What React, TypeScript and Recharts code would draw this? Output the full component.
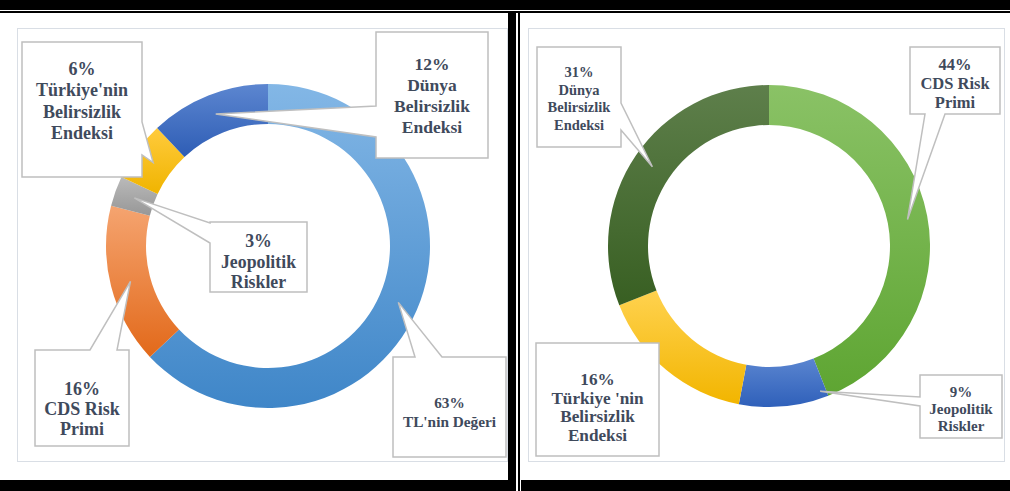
import { PieChart, Pie, Cell } from 'recharts'

// left: factors behind the TL risk premium, right: second breakdown
const LEFT_NAMES = ["TL'nin Değeri", 'CDS Risk\nPrimi', 'Jeopolitik\nRiskler', "Türkiye'nin\nBelirsizlik\nEndeksi", 'Dünya\nBelirsizlik\nEndeksi']
const LEFT_VALUES = [63, 16, 3, 6, 12]
const LEFT_FILLS = ['gTL', 'gOrange', 'gGray', 'gYellow', 'gBlue']

const RIGHT_NAMES = ['CDS Risk\nPrimi', 'Jeopolitik\nRiskler', "Türkiye 'nin\nBelirsizlik\nEndeksi", 'Dünya\nBelirsizlik\nEndeksi']
const RIGHT_VALUES = [44, 9, 16, 31]
const RIGHT_FILLS = ['gGreen', 'gBlue2', 'gYellow2', 'gDarkGreen']

const GRADIENTS: [string, string, string][] = [
  ['gTL', '#83B7E6', '#3F86C8'],
  ['gOrange', '#F5A470', '#E2691A'],
  ['gGray', '#BABABA', '#979797'],
  ['gYellow', '#FFCB3D', '#F0B400'],
  ['gBlue', '#5C86D0', '#2E5DB5'],
  ['gGreen', '#8AC266', '#5EA532'],
  ['gBlue2', '#5A85D0', '#2F60BA'],
  ['gYellow2', '#FFD24F', '#F2B500'],
  ['gDarkGreen', '#5E7F4B', '#385F22'],
]

type Side = 'top' | 'right' | 'bottom' | 'left' | 'none'
interface Callout {
  x0: number; y0: number; x1: number; y1: number
  side: Side; a: number; b: number
  fs: number; by: number; lh: number
  tipDeg?: number; tipDr?: number
}

// callout boxes, page coordinates
const LEFT_CALLOUTS: Callout[] = [
  { x0: 393, y0: 357, x1: 506, y1: 457, side: 'top', a: 415, b: 442, fs: 15.3, by: 408, lh: 18.5 },
  { x0: 35, y0: 350, x1: 129, y1: 446, side: 'top', a: 90, b: 117, fs: 18, by: 395, lh: 20 },
  { x0: 210, y0: 222, x1: 307, y1: 292, side: 'left', a: 223, b: 243, fs: 17.8, by: 247, lh: 20.5 },
  { x0: 22, y0: 42, x1: 142, y1: 177, side: 'right', a: 122, b: 155, fs: 18, by: 75, lh: 21.3 },
  { x0: 376, y0: 32, x1: 488, y1: 158, side: 'left', a: 106, b: 137, fs: 17.5, by: 70, lh: 21 },
]
const RIGHT_CALLOUTS: Callout[] = [
  { x0: 910, y0: 47, x1: 1000, y1: 114, side: 'bottom', a: 925, b: 945, fs: 16.5, by: 70, lh: 19 },
  { x0: 920, y0: 375, x1: 1002, y1: 438, side: 'left', a: 397, b: 406, fs: 15, by: 397, lh: 16.8, tipDeg: 14, tipDr: 13 },
  { x0: 536, y0: 343, x1: 659, y1: 456, side: 'none', a: 0, b: 0, fs: 17.2, by: 385, lh: 18.5 },
  { x0: 537, y0: 47, x1: 621, y1: 147, side: 'right', a: 103, b: 130, fs: 14.5, by: 77, lh: 17.7 },
]

const RAD = Math.PI / 180
const TEXT_COLOR = '#3F4A5C'
const FONT = '"Liberation Serif", "Times New Roman", serif'

function calloutPath(c: Callout, tx: number, ty: number) {
  const { x0, y0, x1, y1, side, a, b } = c
  const p: string[] = [`M${x0},${y0}`]
  if (side === 'top') p.push(`L${a},${y0}`, `L${tx},${ty}`, `L${b},${y0}`)
  p.push(`L${x1},${y0}`)
  if (side === 'right') p.push(`L${x1},${a}`, `L${tx},${ty}`, `L${x1},${b}`)
  p.push(`L${x1},${y1}`)
  if (side === 'bottom') p.push(`L${b},${y1}`, `L${tx},${ty}`, `L${a},${y1}`)
  p.push(`L${x0},${y1}`)
  if (side === 'left') p.push(`L${x0},${b}`, `L${tx},${ty}`, `L${x0},${a}`)
  p.push('Z')
  return p.join(' ')
}

function shift(c: Callout, ox: number, oy: number): Callout {
  const horiz = c.side === 'top' || c.side === 'bottom'
  return {
    ...c,
    x0: c.x0 - ox, x1: c.x1 - ox, y0: c.y0 - oy, y1: c.y1 - oy,
    a: c.a - (horiz ? ox : oy), b: c.b - (horiz ? ox : oy),
    by: c.by - oy,
  }
}

function makeLabel(names: string[], callouts: Callout[], ox: number, oy: number) {
  // eslint-disable-next-line @typescript-eslint/no-explicit-any
  return (props: any) => {
    const { cx, cy, midAngle, innerRadius, outerRadius, index, percent } = props
    const c = shift(callouts[index], ox, oy)
    const r = (innerRadius + outerRadius) / 2 + (c.tipDr ?? 0)
    const ang = midAngle + (c.tipDeg ?? 0)
    const tx = cx + Math.cos(-ang * RAD) * r
    const ty = cy + Math.sin(-ang * RAD) * r
    const lines = [`${Math.round(percent * 100)}%`, ...names[index].split('\n')]
    const mx = (c.x0 + c.x1) / 2
    return (
      <g key={`co-${index}`}>
        <path d={calloutPath(c, tx, ty)} fill="#fff" stroke="#BFBFBF" strokeWidth={1.5} strokeLinejoin="miter" />
        <text textAnchor="middle" fill={TEXT_COLOR} fontFamily={FONT} fontWeight="bold" fontSize={c.fs}>
          {lines.map((ln, i) => (
            <tspan key={i} x={mx} y={c.by + i * c.lh}>{ln}</tspan>
          ))}
        </text>
      </g>
    )
  }
}

const panel = (left: number, width: number): React.CSSProperties => ({
  position: 'absolute', left, top: 28, width, height: 434,
  border: '1.5px solid #D9DEE5', boxSizing: 'border-box', background: '#fff',
})

export default function App() {
  const leftData = LEFT_NAMES.map((name, i) => ({ name, value: LEFT_VALUES[i] }))
  const rightData = RIGHT_NAMES.map((name, i) => ({ name, value: RIGHT_VALUES[i] }))

  return (
    <div style={{ position: 'absolute', left: 0, top: 0, width: 1010, height: 491, background: '#fff', overflow: 'hidden' }}>
      <svg width={0} height={0} style={{ position: 'absolute' }}>
        <defs>
          {GRADIENTS.map(([id, c1, c2]) => (
            <linearGradient key={id} id={id} x1="0" y1="0" x2="0" y2="1">
              <stop offset="0%" stopColor={c1} />
              <stop offset="100%" stopColor={c2} />
            </linearGradient>
          ))}
        </defs>
      </svg>

      <div style={panel(17, 491)} />
      <div style={panel(528, 477)} />

      <div style={{ position: 'absolute', left: 17, top: 28 }}>
        <PieChart width={491} height={434} margin={{ top: 0, right: 0, bottom: 0, left: 0 }}>
          <Pie
            data={leftData}
            dataKey="value"
            cx={251}
            cy={218}
            innerRadius={122}
            outerRadius={162}
            startAngle={90}
            endAngle={-270}
            stroke="none"
            isAnimationActive={false}
            labelLine={false}
            label={makeLabel(LEFT_NAMES, LEFT_CALLOUTS, 17, 28)}
          >
            {leftData.map((d, i) => (
              <Cell key={d.name} fill={`url(#${LEFT_FILLS[i]})`} />
            ))}
          </Pie>
        </PieChart>
      </div>

      <div style={{ position: 'absolute', left: 528, top: 28 }}>
        <PieChart width={479} height={434} margin={{ top: 0, right: 0, bottom: 0, left: 0 }}>
          <Pie
            data={rightData}
            dataKey="value"
            cx={241}
            cy={218}
            innerRadius={121}
            outerRadius={161}
            startAngle={90}
            endAngle={-270}
            stroke="none"
            isAnimationActive={false}
            labelLine={false}
            label={makeLabel(RIGHT_NAMES, RIGHT_CALLOUTS, 528, 28)}
          >
            {rightData.map((d, i) => (
              <Cell key={d.name} fill={`url(#${RIGHT_FILLS[i]})`} />
            ))}
          </Pie>
        </PieChart>
      </div>

      {/* table frame */}
      <div style={{ position: 'absolute', left: 0, top: 0, width: 1010, height: 10, background: '#000' }} />
      <div style={{ position: 'absolute', left: 0, top: 11, width: 1010, height: 2, background: '#000' }} />
      <div style={{ position: 'absolute', left: 508, top: 12, width: 8, height: 470, background: '#000' }} />
      <div style={{ position: 'absolute', left: 518, top: 12, width: 2, height: 479, background: '#000' }} />
      <div style={{ position: 'absolute', left: 0, top: 480, width: 516, height: 11, background: '#000' }} />
      <div style={{ position: 'absolute', left: 521, top: 480, width: 489, height: 11, background: '#000' }} />
    </div>
  )
}
